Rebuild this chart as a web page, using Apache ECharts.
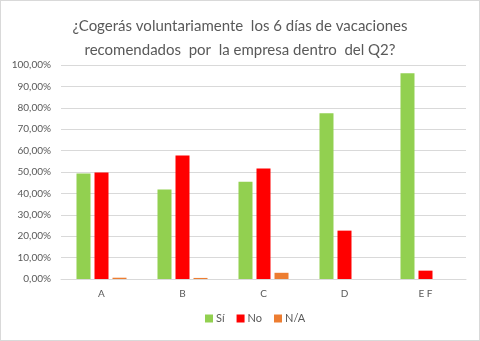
<!DOCTYPE html>
<html>
<head>
<meta charset="utf-8">
<script src="https://cdn.jsdelivr.net/npm/echarts@6/dist/echarts.min.js"></script>
<style>
  html, body { margin: 0; padding: 0; background: #fff; }
  #chart { width: 478px; height: 339px; border: 1px solid #d9d9d9; }
</style>
</head>
<body>
<div id="chart"></div>
<script>
const categories = ['A', 'B', 'C', 'D', 'E F'];
const seriesNames = ['Sí', 'No', 'N/A'];
const siValues = [0.493, 0.418, 0.455, 0.774, 0.961];
const noValues = [0.498, 0.577, 0.516, 0.226, 0.039];
const naValues = [0.006, 0.005, 0.029, 0, 0];
const colors = ['#92d050', '#ff0000', '#ed7d31'];

const chart = echarts.init(document.getElementById('chart'));
const fontFamily = 'Lato, "Open Sans", sans-serif';

chart.setOption({
  animation: false,
  textStyle: { fontFamily: fontFamily },
  title: {
    text: '¿Cogerás voluntariamente  los 6 días de vacaciones\nrecomendados  por  la empresa dentro  del Q2?',
    left: 'center',
    top: 8,
    textStyle: { fontSize: 15, fontWeight: 'normal', color: '#595959', lineHeight: 24, fontFamily: fontFamily, align: 'center' }
  },
  legend: {
    bottom: 11,
    left: 199,
    itemWidth: 8,
    itemHeight: 8,
    itemGap: 12,
    icon: 'rect',
    textStyle: { fontSize: 11, color: '#595959', padding: [0, 0, 0, -2] },
    data: seriesNames
  },
  grid: { left: 60, right: 13, top: 64, bottom: 61 },
  xAxis: {
    type: 'category',
    data: categories,
    axisLine: { lineStyle: { color: '#d9d9d9' } },
    axisTick: { show: false },
    axisLabel: { color: '#595959', fontSize: 10, margin: 10 }
  },
  yAxis: {
    type: 'value',
    min: 0,
    max: 1,
    interval: 0.1,
    axisLine: { show: false },
    axisTick: { show: false },
    splitLine: { lineStyle: { color: '#d9d9d9' } },
    axisLabel: {
      color: '#595959',
      fontSize: 10,
      margin: 10,
      formatter: v => (v * 100).toFixed(2).replace('.', ',') + '%'
    }
  },
  series: [siValues, noValues, naValues].map((vals, i) => ({
    name: seriesNames[i],
    type: 'bar',
    data: vals,
    barWidth: 14,
    barGap: '28.6%',
    itemStyle: { color: colors[i] }
  }))
});
</script>
</body>
</html>
